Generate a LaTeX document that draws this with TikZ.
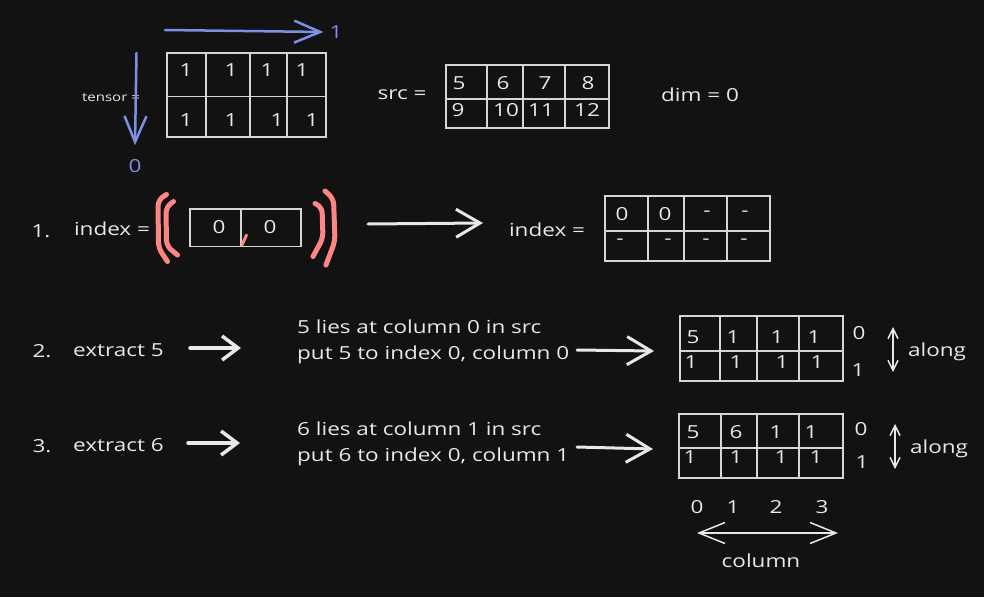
\documentclass[tikz,border=0pt]{standalone}
\usepackage{fontspec}
\setmainfont{Open Sans}[FakeStretch=1.25]
\usetikzlibrary{arrows.meta}
\definecolor{bg}{HTML}{121212}
\definecolor{ink}{HTML}{E8E8E8}
\definecolor{gridline}{HTML}{D6D6D6}
\definecolor{axis}{HTML}{7D8FE6}
\definecolor{brk}{HTML}{FF8585}
\begin{document}
\begin{tikzpicture}[x=1pt,y=-1pt,
	lbl/.style={text=ink,inner sep=0pt,font=\fontsize{18}{26}\selectfont},
	num/.style={text=ink,inner sep=0pt,font=\fontsize{18}{20}\selectfont},
	tinylbl/.style={text=ink,inner sep=0pt,font=\fontsize{12}{14}\selectfont},
	axislbl/.style={text=axis,inner sep=0pt,font=\fontsize{18}{20}\selectfont},
	gridlines/.style={draw=gridline,line width=1.3pt},
	flow/.style={draw=ink,line width=3pt,line cap=round,-{Straight Barb[length=24pt,width=28pt,line width=3pt]}},
	shortflow/.style={draw=ink,line width=3.5pt,line cap=round,-{Straight Barb[length=16pt,width=24pt,line width=3.5pt]}},
	axisarrow/.style={draw=axis,line width=2.5pt,line cap=round,-{Straight Barb[length=26pt,width=22pt,line width=2.5pt]}},
	alongarrow/.style={draw=ink,line width=1.5pt,line cap=round,{Straight Barb[length=10pt,width=10pt,line width=1.5pt]}-{Straight Barb[length=10pt,width=10pt,line width=1.5pt]}},
	bracketstroke/.style={draw=brk,line width=5pt,line cap=round,rounded corners=6pt}]
	\fill[bg] (0,0) rectangle (984,597);
	\useasboundingbox (0,0) rectangle (984,597);
	% tensor
	\node[tinylbl] (tensorlbl) at (111,98) {tensor =};
	\draw[gridlines] (167,53) rectangle (326,137);
	\draw[gridlines] (167,96.5) -- (326,96.5);
	\foreach \x in {206,250,287} \draw[gridlines] (\x,53) -- (\x,137);
	\foreach \x [count=\i] in {186,231,267,302} \node[num] (ta\i) at (\x,70) {1};
	\foreach \x [count=\i] in {186,231,277,312} \node[num] (tb\i) at (\x,120) {1};
	\coordinate (dimone) at (165,30);
	\coordinate (dimzero) at (136.5,53);
	\node[axislbl] (one) at (336,32) {1};
	\node[axislbl] (zero) at (135,166) {0};
	\draw[axisarrow] (dimone) -- ([xshift=-6pt]one.west);
	\draw[axisarrow] (dimzero) -- ([yshift=14pt]zero.north);
	% src
	\node[lbl] (srclbl) at (402,95) {src =};
	\draw[gridlines] (446,65) rectangle (609,128);
	\draw[gridlines] (446,99) -- (609,99);
	\foreach \x in {487,523,565} \draw[gridlines] (\x,65) -- (\x,128);
	\foreach \x/\v [count=\i] in {459/5,503/6,545/7,588/8} \node[num] (sa\i) at (\x,83) {\v};
	\foreach \x/\v [count=\i] in {458/9,506/10,541/11,587/12} \node[num] (sb\i) at (\x,110) {\v};
	\node[lbl] (dimlbl) at (700,95) {dim = 0};
	% step 1
	\node[lbl] (no1) at (41,231) {1.};
	\node[lbl] (idxlbl) at (112,229) {index =};
	\draw[bracketstroke] (166.5,194.5) -- (158,200) -- (158.5,248) -- (167.5,261.5);
	\draw[bracketstroke] (173.5,201.5) -- (166,207) -- (166.5,246) -- (177.5,255);
	\draw[bracketstroke] (315,203.5) -- (322,207) -- (323,238) -- (313,256.5);
	\draw[bracketstroke] (325,191) -- (333.5,198.5) -- (335,241) -- (326,265);
	\draw[gridlines] (190,209) rectangle (301,246.5);
	\draw[gridlines] (241,209) -- (241,246.5);
	\node[num] (ia) at (219,227) {0};
	\node[num] (ib) at (270,227) {0};
	\draw[brk,line width=3pt,line cap=round] (242,245) -- (246.5,235);
	\coordinate (s1a) at (368,224);
	\coordinate (s1b) at (483,223);
	\draw[flow] (s1a) -- (s1b);
	\node[lbl] (idxlblb) at (547,230) {index =};
	\draw[gridlines] (605,196) rectangle (770,261);
	\draw[gridlines] (605,231) -- (770,231);
	\foreach \x in {648,684,727} \draw[gridlines] (\x,196) -- (\x,261);
	\foreach \x/\v [count=\i] in {622/0,665/0,707/-,745/-} \node[num] (ja\i) at (\x,214) {\v};
	\foreach \x [count=\i] in {620,668,706,744} \node[num] (jb\i) at (\x,242) {-};
	% step 2
	\node[lbl] (no2) at (42,351) {2.};
	\node[lbl,anchor=west] (ex5) at (73,350) {extract 5};
	\coordinate (s2a) at (190,348);
	\coordinate (s2b) at (241,348);
	\draw[shortflow] (s2a) -- (s2b);
	\node[lbl,anchor=west,align=left] (put5) at (297,342) {5 lies at column 0 in src\\put 5 to index 0, column 0};
	\coordinate (s2c) at (577,350);
	\coordinate (s2d) at (654,351);
	\draw[flow] (s2c) -- (s2d);
	\draw[gridlines] (680,316) rectangle (843,381);
	\draw[gridlines] (680,351) -- (843,351);
	\foreach \x in {720,757,799} \draw[gridlines] (\x,316) -- (\x,381);
	\foreach \x/\v [count=\i] in {693/5,733/1,777/1,814/1} \node[num] (ka\i) at (\x,337) {\v};
	\foreach \x [count=\i] in {691,736,782,817} \node[num] (kb\i) at (\x,362) {1};
	\node[num] (rowa) at (859,333) {0};
	\node[num] (rowb) at (858,370) {1};
	\coordinate (upa) at (893,327);
	\coordinate (downa) at (893,372);
	\draw[alongarrow] (upa) -- (downa);
	\node[lbl] (alonga) at (937,352) {along};
	% step 3
	\node[lbl] (no3) at (42,446) {3.};
	\node[lbl,anchor=west] (ex6) at (73,445) {extract 6};
	\coordinate (s3a) at (188,443);
	\coordinate (s3b) at (240,443);
	\draw[shortflow] (s3a) -- (s3b);
	\node[lbl,anchor=west,align=left] (put6) at (297,444) {6 lies at column 1 in src\\put 6 to index 0, column 1};
	\coordinate (s3c) at (577,447);
	\coordinate (s3d) at (653,449);
	\draw[flow] (s3c) -- (s3d);
	\draw[gridlines] (679,414) rectangle (843,478);
	\draw[gridlines] (679,448) -- (843,448);
	\foreach \x in {721,757,799} \draw[gridlines] (\x,414) -- (\x,478);
	\foreach \x/\v [count=\i] in {693/5,736/6,776/1,811/1} \node[num] (la\i) at (\x,432) {\v};
	\foreach \x [count=\i] in {690,736,781,816} \node[num] (lb\i) at (\x,457) {1};
	\node[num] (rowc) at (861,429) {0};
	\node[num] (rowd) at (862,462) {1};
	\coordinate (upb) at (895,424);
	\coordinate (downb) at (895,469);
	\draw[alongarrow] (upb) -- (downb);
	\node[lbl] (alongb) at (939,449) {along};
	% column axis
	\foreach \x/\c [count=\i] in {697/0,733/1,776/2,822/3} \node[num] (col\i) at (\x,507) {\c};
	\coordinate (colleft) at (697,533);
	\coordinate (colright) at (838,533);
	\draw[draw=ink,line width=1.5pt,line cap=round,{Straight Barb[length=26pt,width=21pt,line width=1.5pt]}-{Straight Barb[length=26pt,width=21pt,line width=1.5pt]}] (colleft) -- (colright);
	\node[lbl] (collbl) at (761,561) {column};
\end{tikzpicture}
\end{document}
